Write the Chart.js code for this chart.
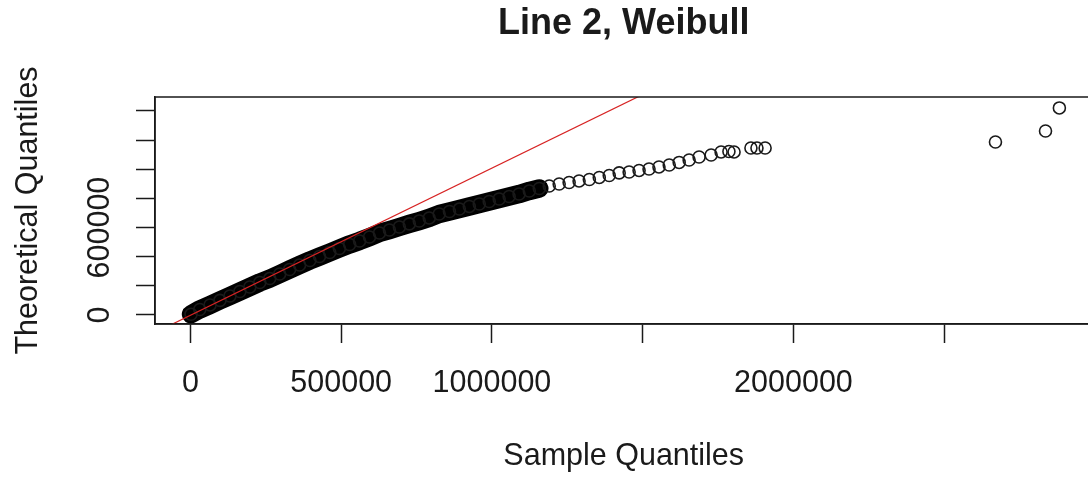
<!DOCTYPE html>
<html lang="en">
<head>
    <meta charset="UTF-8">
    <title>Line 2, Weibull</title>
    <script src="https://cdn.jsdelivr.net/npm/chart.js"></script>
    <style>
        html, body { margin: 0; padding: 0; overflow: hidden; background: #fff; }
    </style>
</head>
<body>
    <canvas id="qqChart" width="1100" height="477"></canvas>
    <script>
        const chartTitle = 'Line 2, Weibull';
        const xAxisTitle = 'Sample Quantiles';
        const yAxisTitle = 'Theoretical Quantiles';

        // sample quantile (x) / theoretical quantile (y)
        const sampleQ = [
            2000, 31000, 65000, 98000, 131000, 164000, 197000, 230000, 263000, 296000,
            329000, 362000, 396000, 428000, 462000, 494000, 528000, 561000, 594000, 627000,
            660000, 693000, 726000, 759000, 792000, 825000, 859000, 892000, 925000, 958000,
            991000, 1024000, 1057000, 1090000, 1124000, 1157000, 1190000, 1223000, 1256000, 1289000,
            1323000, 1356000, 1389000, 1422000, 1455000, 1488000, 1521000, 1554000, 1588000, 1621000,
            1654000, 1687000, 1727000, 1760000, 1786000, 1803000, 1859000, 1879000, 1906000,
            2670000, 2836000, 2882000
        ];
        const theoQ = [
            5000, 38000, 69000, 100000, 130000, 161000, 192000, 223000, 250000, 281000,
            312000, 343000, 374000, 401000, 429000, 456000, 484000, 508000, 535000, 563000,
            583000, 604000, 625000, 645000, 666000, 693000, 710000, 727000, 745000, 762000,
            779000, 796000, 813000, 830000, 851000, 868000, 885000, 899000, 909000, 920000,
            930000, 944000, 957000, 975000, 981000, 992000, 1002000, 1016000, 1029000, 1047000,
            1064000, 1084000, 1098000, 1119000, 1122000, 1119000, 1146000, 1146000, 1146000,
            1187000, 1263000, 1421000
        ];
        // below this sample value the circles overlap into one solid band
        const solidUntil = 1157000;

        // reference line
        const refSlope = 1.01;
        const refIntercept = -2000;
        const refEnds = [-200000, 1700000];

        const xRange = [-117500, 2991500];
        const yRange = [-61800, 1496000];
        const xTicks = [0, 500000, 1000000, 1500000, 2000000, 2500000];
        const xTickLabels = ['0', '500000', '1000000', '', '2000000', ''];
        const yTicks = [0, 200000, 400000, 600000, 800000, 1000000, 1200000, 1400000];
        const yTickLabels = ['0', '', '', '600000', '', '', '', ''];

        const FONT = "'Liberation Sans', Arial, sans-serif";
        const INK = '#1a1a1a';

        const points = sampleQ.map((x, i) => ({ x: x, y: theoQ[i] }));
        const solidBand = points.filter(p => p.x <= solidUntil);
        const refLine = refEnds.map(x => ({ x: x, y: refIntercept + refSlope * x }));

        const boxPlugin = {
            id: 'plotBox',
            afterDatasetsDraw(chart) {
                const a = chart.chartArea;
                const ctx = chart.ctx;
                ctx.save();
                ctx.strokeStyle = INK;
                ctx.lineWidth = 1.5;
                ctx.strokeRect(a.left, a.top, a.right - a.left, a.bottom - a.top);
                ctx.restore();
            }
        };

        new Chart(document.getElementById('qqChart'), {
            type: 'scatter',
            data: {
                datasets: [
                    {
                        type: 'line',
                        data: refLine,
                        borderColor: 'rgb(215, 35, 35)',
                        borderWidth: 1.2,
                        pointRadius: 0,
                        clip: 0
                    },
                    {
                        data: points,
                        pointStyle: 'circle',
                        pointRadius: 6,
                        pointBorderWidth: 1.6,
                        borderColor: INK,
                        backgroundColor: 'rgba(0,0,0,0)'
                    },
                    {
                        type: 'line',
                        data: solidBand,
                        borderColor: '#000',
                        borderWidth: 18.5,
                        borderCapStyle: 'round',
                        borderJoinStyle: 'round',
                        pointRadius: 0
                    }
                ]
            },
            options: {
                responsive: false,
                animation: false,
                layout: { padding: { left: 0, top: 0, right: 6, bottom: 0 } },
                plugins: {
                    legend: { display: false },
                    tooltip: { enabled: false },
                    title: {
                        display: true,
                        text: chartTitle,
                        fullSize: false,
                        color: INK,
                        font: { family: FONT, size: 36, weight: 'bold' },
                        padding: { top: 2.3, bottom: 51.5 }
                    }
                },
                scales: {
                    x: {
                        type: 'linear',
                        min: xRange[0],
                        max: xRange[1],
                        afterBuildTicks: axis => { axis.ticks = xTicks.map(v => ({ value: v })); },
                        afterFit: axis => { axis.height = 153; },
                        grid: { drawOnChartArea: false, tickLength: 19, tickColor: INK, tickWidth: 1.5 },
                        border: { color: INK, width: 1.5 },
                        ticks: {
                            autoSkip: false,
                            maxRotation: 0,
                            padding: 22,
                            color: INK,
                            font: { family: FONT, size: 30.5 },
                            callback: (v, i) => xTickLabels[i]
                        },
                        title: {
                            display: true,
                            text: xAxisTitle,
                            color: INK,
                            font: { family: FONT, size: 30.5 },
                            padding: { top: 0, bottom: 2 }
                        }
                    },
                    y: {
                        type: 'linear',
                        min: yRange[0],
                        max: yRange[1],
                        afterBuildTicks: axis => { axis.ticks = yTicks.map(v => ({ value: v })); },
                        afterFit: axis => { axis.width = 155; },
                        grid: { drawOnChartArea: false, tickLength: 19, tickColor: INK, tickWidth: 1.5 },
                        border: { color: INK, width: 1.5 },
                        ticks: {
                            autoSkip: false,
                            minRotation: 90,
                            maxRotation: 90,
                            crossAlign: 'center',
                            padding: -15,
                            color: INK,
                            font: { family: FONT, size: 30.5 },
                            callback: (v, i) => yTickLabels[i]
                        },
                        title: {
                            display: true,
                            text: yAxisTitle,
                            color: INK,
                            font: { family: FONT, size: 30.5 },
                            padding: { top: 10, bottom: 0 }
                        }
                    }
                }
            },
            plugins: [boxPlugin]
        });
    </script>
</body>
</html>
